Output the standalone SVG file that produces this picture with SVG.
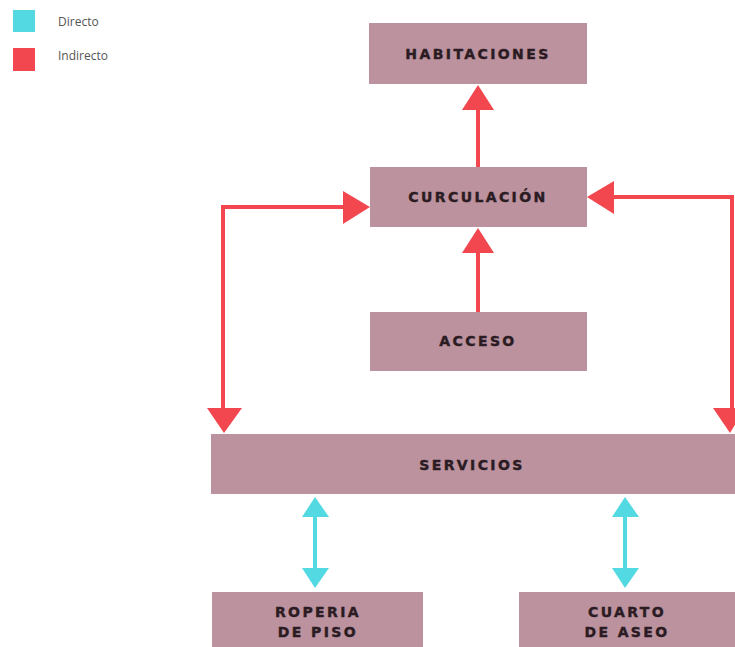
<svg xmlns="http://www.w3.org/2000/svg" width="735" height="647" viewBox="0 0 735 647">
<style>
.box{fill:#bb929e}
.lbl{font-family:"DejaVu Sans","Liberation Sans",sans-serif;font-weight:bold;font-size:14px;letter-spacing:2.4px;fill:#2b1b22;text-anchor:middle;stroke:#2b1b22;stroke-width:0.4}
.leg{font-family:"Open Sans","Liberation Sans",sans-serif;font-size:12px;fill:#555}
.red{stroke:#f2474f;stroke-width:4;fill:none}
.cy{stroke:#52d9e2;stroke-width:4;fill:none}
.rh{fill:#f2474f}
.ch{fill:#52d9e2}
</style>
<rect width="735" height="647" fill="#fff"/>
<g id="legend">
<rect x="13" y="10" width="22" height="22" fill="#52d9e2"/>
<rect x="13" y="48" width="22" height="23" fill="#f2474f"/>
<text class="leg" x="58" y="26">Directo</text>
<text class="leg" x="58" y="60">Indirecto</text>
</g>
<g id="connectors">
<line class="red" x1="478" y1="108" x2="478" y2="168"/>
<polygon class="rh" points="478,85 462,110 494,110"/>
<line class="red" x1="478" y1="251" x2="478" y2="312"/>
<polygon class="rh" points="478,228 462,253 494,253"/>
<polyline class="red" points="345,207 223,207 223,410"/>
<polygon class="rh" points="370,207 343,191 343,224"/>
<polygon class="rh" points="224,433 207,408 242,408"/>
<polyline class="red" points="612,197 732,197 732,410"/>
<polygon class="rh" points="587,197 614,181 614,214"/>
<polygon class="rh" points="730,433 713,408 745,408"/>
<line class="cy" x1="315" y1="515" x2="315" y2="570"/>
<polygon class="ch" points="315,497 302,517 329,517"/>
<polygon class="ch" points="315,588 302,568 329,568"/>
<line class="cy" x1="625" y1="515" x2="625" y2="570"/>
<polygon class="ch" points="625,497 612,517 639,517"/>
<polygon class="ch" points="625,588 612,568 639,568"/>
</g>
<g id="habitaciones"><rect class="box" x="369" y="23" width="218" height="61"/><text class="lbl" x="478" y="59">HABITACIONES</text></g>
<g id="curculacion"><rect class="box" x="370" y="167" width="217" height="60"/><text class="lbl" x="478" y="202">CURCULACIÓN</text></g>
<g id="acceso"><rect class="box" x="370" y="312" width="217" height="59"/><text class="lbl" x="478" y="346">ACCESO</text></g>
<g id="servicios"><rect class="box" x="211" y="434" width="530" height="60"/><text class="lbl" x="472" y="470">SERVICIOS</text></g>
<g id="roperia"><rect class="box" x="212" y="592" width="211" height="60"/><text class="lbl" x="318" y="617">ROPERIA</text><text class="lbl" x="318" y="637">DE PISO</text></g>
<g id="cuarto"><rect class="box" x="519" y="592" width="220" height="60"/><text class="lbl" x="627" y="617">CUARTO</text><text class="lbl" x="627" y="637">DE ASEO</text></g>
</svg>
